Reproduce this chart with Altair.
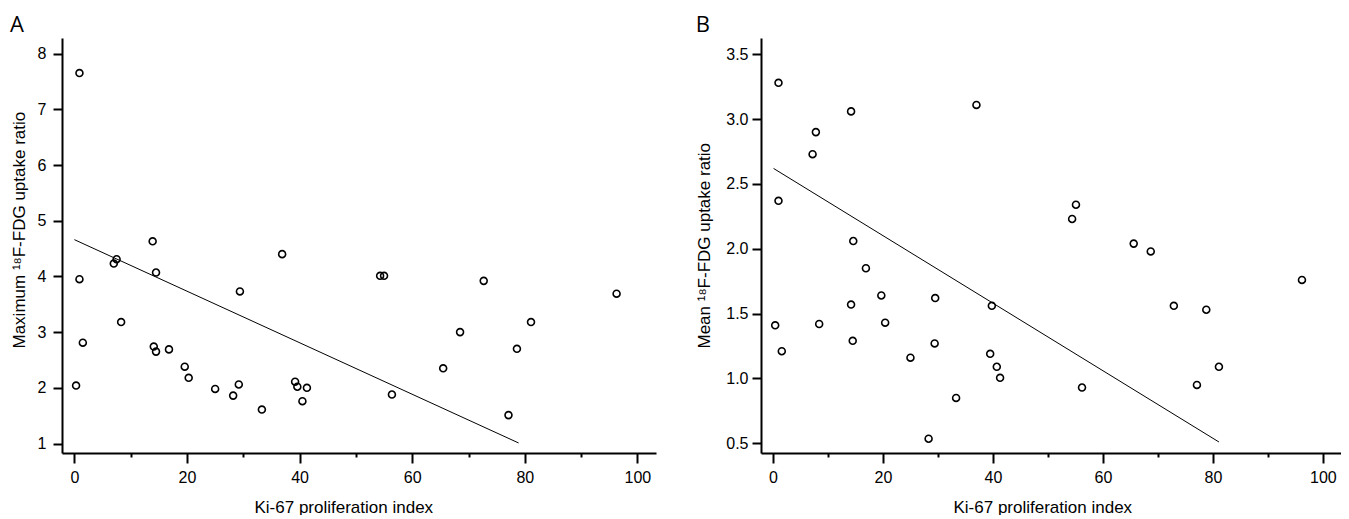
import altair as alt
import pandas as pd

# Panel A: Ki-67 index vs maximum 18F-FDG uptake ratio
ki67_a = [0.9, 13.9, 36.9, 7.0, 7.5, 14.5, 0.9, 29.4, 8.3, 1.5, 14.1, 14.5,
          16.8, 19.6, 20.3, 0.3, 25.0, 28.2, 29.2, 33.3, 39.2, 39.6, 41.3, 40.5,
          54.3, 55.0, 72.7, 96.3, 81.1, 68.5, 78.6, 65.5, 56.4, 77.1]
suv_max = [7.65, 4.63, 4.40, 4.23, 4.31, 4.07, 3.95, 3.73, 3.18, 2.81, 2.74, 2.65,
           2.69, 2.38, 2.18, 2.04, 1.98, 1.86, 2.06, 1.61, 2.11, 2.02, 2.00, 1.76,
           4.01, 4.01, 3.92, 3.69, 3.18, 3.00, 2.70, 2.35, 1.88, 1.51]
fit_a_x = [0.0, 78.9]
fit_a_y = [4.66, 1.01]

# Panel B: Ki-67 index vs mean 18F-FDG uptake ratio
ki67_b = [1.0, 14.2, 37.0, 7.8, 7.2, 1.0, 14.6, 16.9, 19.7, 29.5, 14.2, 39.8,
          0.4, 8.4, 20.4, 14.5, 1.6, 29.4, 25.0, 39.5, 40.7, 41.3, 33.3, 28.3,
          55.1, 54.4, 65.6, 68.7, 96.2, 72.9, 78.8, 81.1, 77.1, 56.2]
suv_mean = [3.28, 3.06, 3.11, 2.90, 2.73, 2.37, 2.06, 1.85, 1.64, 1.62, 1.57, 1.56,
            1.41, 1.42, 1.43, 1.29, 1.21, 1.27, 1.16, 1.19, 1.09, 1.005, 0.85, 0.535,
            2.34, 2.23, 2.04, 1.98, 1.76, 1.56, 1.53, 1.09, 0.95, 0.93]
fit_b_x = [0.1, 81.1]
fit_b_y = [2.62, 0.51]

x_ticks = [0, 10, 20, 30, 40, 50, 60, 70, 80, 90, 100]
y_ticks_a = [1, 1.5, 2, 2.5, 3, 3.5, 4, 4.5, 5, 5.5, 6, 6.5, 7, 7.5, 8]
y_ticks_b = [0.5, 1.0, 1.5, 2.0, 2.5, 3.0, 3.5]

LABEL_FONT = "Liberation Sans Narrow, Arial Narrow, Liberation Sans, Arial"
TITLE_FONT = "Liberation Sans, Arial"
X_TITLE = "Ki-67 proliferation index"


def axis_common(**kw):
    base = dict(
        domainColor="black", domainWidth=2, domainOpacity=1,
        tickColor="black", tickWidth=2, tickOpacity=1,
        labelFont=LABEL_FONT, labelFontSize=16, labelColor="black",
        titleFont=TITLE_FONT, titleFontSize=17, titleFontWeight="normal",
        titleColor="black", grid=False,
    )
    base.update(kw)
    return alt.Axis(**base)


def panel(xs, ys, fx, fy, xdom, ydom, yticks, ytitle, yfmt, ymajor_test,
          ylabel_pad, ytitle_pad, letter, width, height):
    pts = pd.DataFrame({"x": xs, "y": ys})
    fit = pd.DataFrame({"x": fx, "y": fy})
    xaxis = axis_common(
        values=x_ticks, title=X_TITLE, format="d",
        labelExpr="datum.value % 20 === 0 ? datum.label : ''",
        tickSize={"condition": {"test": "datum.value % 20 === 0", "value": 10}, "value": 4},
        labelPadding=6, titlePadding=14, titleX=192, titleAlign="left",
    )
    yaxis = axis_common(
        values=yticks, title=ytitle, format=yfmt,
        labelExpr=ymajor_test + " ? datum.label : ''",
        tickSize={"condition": {"test": ymajor_test, "value": 9}, "value": 4},
        labelPadding=ylabel_pad, titlePadding=ytitle_pad, titleY=310, titleAlign="left",
    )
    xs_ = alt.Scale(domain=xdom, nice=False, zero=False)
    ys_ = alt.Scale(domain=ydom, nice=False, zero=False)
    points = alt.Chart(pts).mark_point(
        shape="circle", filled=False, color="black", size=48, strokeWidth=1.6, opacity=1
    ).encode(
        x=alt.X("x:Q", scale=xs_, axis=xaxis),
        y=alt.Y("y:Q", scale=ys_, axis=yaxis),
    )
    line = alt.Chart(fit).mark_line(color="black", strokeWidth=1).encode(
        x=alt.X("x:Q", scale=xs_),
        y=alt.Y("y:Q", scale=ys_),
    )
    return alt.layer(line, points).properties(
        width=width, height=height,
        title=alt.TitleParams(letter, anchor="start", frame="bounds",
                              fontSize=22, font="Open Sans", fontWeight="normal",
                              color="black", offset=1),
    )


chart_a = panel(ki67_a, suv_max, fit_a_x, fit_a_y, [-2.2, 103.3], [0.83, 8.28],
                y_ticks_a, "Maximum \u00b9\u2078F-FDG uptake ratio", "d",
                "datum.value % 1 === 0", 7, 9, "A", 594, 415)
chart_b = panel(ki67_b, suv_mean, fit_b_x, fit_b_y, [-2.18, 103.3], [0.425, 3.626],
                y_ticks_b, "Mean \u00b9\u2078F-FDG uptake ratio", ".1f",
                "true", 4, 12, "B", 580, 415)

chart = alt.hconcat(chart_a, chart_b, spacing=39).properties(
    padding={"left": 2, "top": 6, "right": 0, "bottom": 0},
    background="white",
).configure_view(stroke=None)

chart.save("out.html", embed_options={"renderer": "svg", "actions": False})
